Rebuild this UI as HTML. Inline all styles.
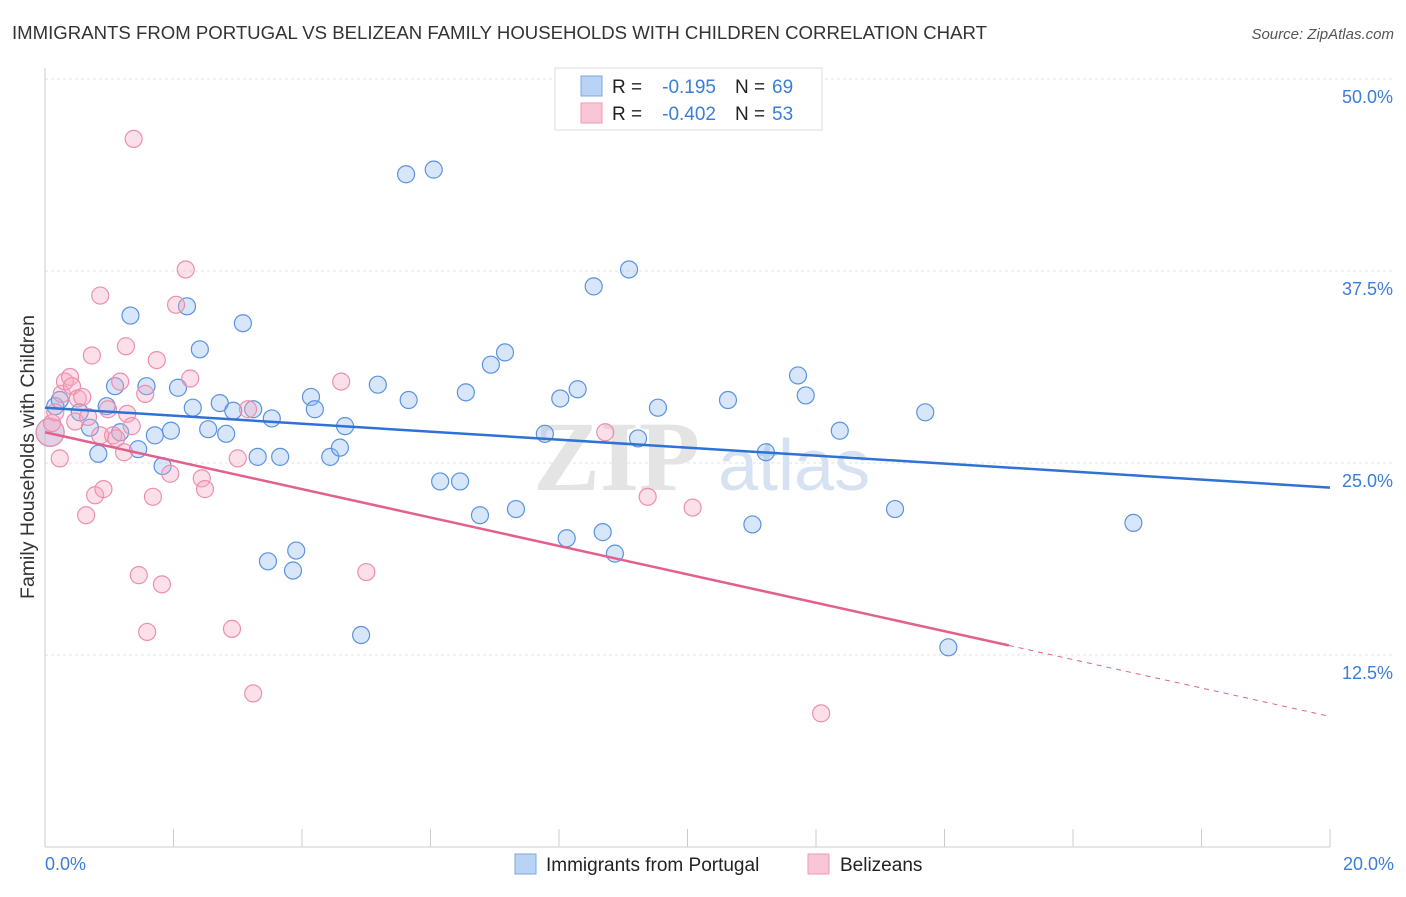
<!DOCTYPE html>
<html><head><meta charset="utf-8"><style>
body{margin:0;background:#fff;font-family:"Liberation Sans",sans-serif}
</style></head><body>
<svg width="1406" height="892" xmlns="http://www.w3.org/2000/svg" style="font-family:'Liberation Sans',sans-serif">
<text x="12" y="39" font-size="18.6" fill="#333">IMMIGRANTS FROM PORTUGAL VS BELIZEAN FAMILY HOUSEHOLDS WITH CHILDREN CORRELATION CHART</text>
<text x="1394" y="39" font-size="15" fill="#555" font-style="italic" text-anchor="end">Source: ZipAtlas.com</text>
<g id="grid"></g>
<text x="700" y="490" font-size="100" font-family="Liberation Serif" fill="#e4e4e4" text-anchor="end" font-weight="bold">ZIP</text>
<text x="718" y="490" font-size="72" fill="#d6e2f2">atlas</text>
<line x1="45" y1="68" x2="45" y2="847" stroke="#ccc"/>
<line x1="45" y1="847" x2="1330" y2="847" stroke="#ccc"/>
<g id="marks"></g>
<text x="34" y="457" font-size="19.5" fill="#333" text-anchor="middle" transform="rotate(-90 34 457)">Family Households with Children</text>
<text x="45" y="870" font-size="18" fill="#3b7dd8">0.0%</text>
<text x="1394" y="870" font-size="18" fill="#3b7dd8" text-anchor="end">20.0%</text>
<g>
<rect x="555" y="68" width="267" height="62" fill="#fff" stroke="#ddd"/>
<rect x="581" y="76" width="21" height="20" fill="#b9d3f5" stroke="#7aa7e3"/>
<rect x="581" y="103" width="21" height="20" fill="#f9c6d6" stroke="#ee9ab5"/>
<text x="612" y="93" font-size="19" fill="#222">R =</text>
<text x="716" y="93" font-size="19" fill="#3b7dd8" text-anchor="end">-0.195</text>
<text x="735" y="93" font-size="19" fill="#222">N =</text>
<text x="772" y="93" font-size="19" fill="#3b7dd8">69</text>
<text x="612" y="120" font-size="19" fill="#222">R =</text>
<text x="716" y="120" font-size="19" fill="#3b7dd8" text-anchor="end">-0.402</text>
<text x="735" y="120" font-size="19" fill="#222">N =</text>
<text x="772" y="120" font-size="19" fill="#3b7dd8">53</text>
</g>
<g>
<rect x="515" y="854" width="21" height="20" fill="#b9d3f5" stroke="#7aa7e3"/>
<text x="546" y="871" font-size="19" fill="#222">Immigrants from Portugal</text>
<rect x="808" y="854" width="21" height="20" fill="#f9c6d6" stroke="#ee9ab5"/>
<text x="840" y="871" font-size="19" fill="#222">Belizeans</text>
</g>
</svg>
<script>
const yTicks=[12.5,25,37.5,50];
const yTickLabels=["12.5%","25.0%","37.5%","50.0%"];
const xTicks=[0,2,4,6,8,10,12,14,16,18,20];
const blueX=[0.08,0.16,0.23,0.54,0.70,0.83,0.96,1.09,1.17,1.33,1.45,1.58,1.71,1.83,1.96,2.07,2.21,2.30,2.41,2.54,2.72,2.82,2.93,3.08,3.24,3.31,3.53,3.66,3.47,3.91,3.86,4.14,4.20,4.44,4.59,4.67,4.92,5.18,5.62,5.66,6.05,6.15,6.46,6.55,6.77,6.94,7.16,7.33,7.78,8.02,8.12,8.29,8.54,8.68,8.87,9.09,9.23,9.54,10.63,11.01,11.22,11.72,11.84,12.37,13.23,13.70,14.06,16.94];
const blueY=[27.0,28.7,29.1,28.3,27.3,25.6,28.7,30.0,27.0,34.6,25.9,30.0,26.8,24.8,27.1,29.9,35.2,28.6,32.4,27.2,28.9,26.9,28.4,34.1,28.5,25.4,27.9,25.4,18.6,19.3,18.0,29.3,28.5,25.4,26.0,27.4,13.8,30.1,43.8,29.1,44.1,23.8,23.8,29.6,21.6,31.4,32.2,22.0,26.9,29.2,20.1,29.8,36.5,20.5,19.1,37.6,26.6,28.6,29.1,21.0,25.7,30.7,29.4,27.1,22.0,28.3,13.0,21.1];
const pinkX=[0.08,0.11,0.16,0.23,0.26,0.31,0.39,0.42,0.47,0.51,0.58,0.64,0.67,0.73,0.78,0.86,0.86,0.91,0.98,1.06,1.11,1.17,1.23,1.26,1.28,1.35,1.38,1.46,1.56,1.59,1.68,1.74,1.82,1.95,2.04,2.19,2.26,2.44,2.49,2.91,3.00,3.16,3.24,4.61,5.00,8.72,9.38,10.08,12.08];
const pinkY=[27.0,27.6,28.3,25.3,29.5,30.3,30.6,30.0,27.7,29.2,29.3,21.6,28.0,32.0,22.9,35.9,26.8,23.3,28.5,26.8,26.6,30.3,25.7,32.6,28.2,27.4,46.1,17.7,29.5,14.0,22.8,31.7,17.1,24.3,35.3,37.6,30.5,24.0,23.3,14.2,25.3,28.5,10.0,30.3,17.9,27.0,22.8,22.1,8.7];
const blueLine=[28.6,23.4];
const pinkLine=[27.0,8.5];
const pinkSolidEnd=15.0;
const X=v=>45+v/20*1285, Y=v=>847-v/12.5*192;
const NS="http://www.w3.org/2000/svg";
const grid=document.getElementById('grid'), marks=document.getElementById('marks'), svg=document.querySelector('svg');
function mk(tag,attrs,parent){const e=document.createElementNS(NS,tag);for(const k in attrs)e.setAttribute(k,attrs[k]);parent.appendChild(e);return e;}
yTicks.forEach((t,i)=>{
 const l=mk('line',{x1:45,x2:1394,y1:Y(t),y2:Y(t),stroke:'#e2e2e2','stroke-dasharray':'3,3'},grid);
 
 
 const tx=mk('text',{x:1393,y:Y(t)+24,'font-size':18,fill:'#3b7dd8','text-anchor':'end'},svg);
 tx.textContent=yTickLabels[i];
 
 
});
xTicks.forEach(t=>{
 const l=mk('line',{x1:X(t),x2:X(t),y1:829,y2:847,stroke:'#ccc'},grid);
 
 
});
blueX.forEach((x,i)=>{
 const c=mk('circle',{cx:X(x),cy:Y(blueY[i]),r:i==0?14:8.5,fill:'rgba(140,182,238,0.35)',stroke:'#5b93e0','stroke-width':1.2},marks);
 
 
});
pinkX.forEach((x,i)=>{
 const c=mk('circle',{cx:X(x),cy:Y(pinkY[i]),r:i==0?14:8.5,fill:'rgba(246,166,192,0.35)',stroke:'#ec8fae','stroke-width':1.2},marks);
 
 
});
const bl=mk('line',{x1:X(0),y1:Y(blueLine[0]),x2:X(20),y2:Y(blueLine[1]),stroke:'#2f72d6','stroke-width':2.5},marks);


const py=x=>pinkLine[0]+(pinkLine[1]-pinkLine[0])*x/20;
const pl=mk('line',{x1:X(0),y1:Y(pinkLine[0]),x2:X(pinkSolidEnd),y2:Y(py(pinkSolidEnd)),stroke:'#e3608e','stroke-width':2.5},marks);


const pd=mk('line',{x1:X(pinkSolidEnd),y1:Y(py(pinkSolidEnd)),x2:X(20),y2:Y(pinkLine[1]),stroke:'#e3608e','stroke-width':1,'stroke-dasharray':'5,5'},marks);


</script>
</body></html>
